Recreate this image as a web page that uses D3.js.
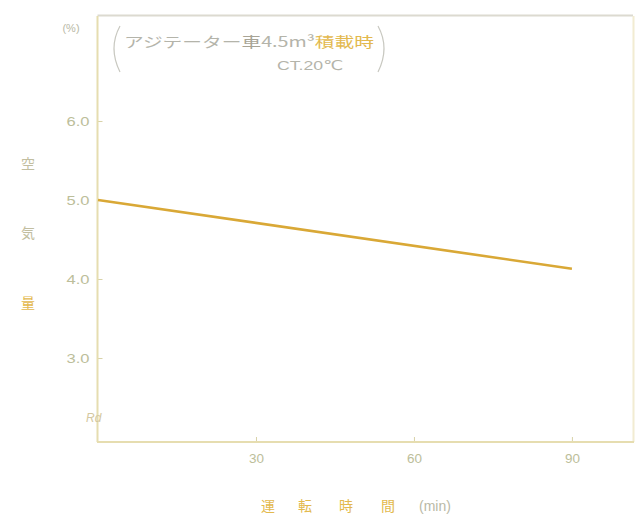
<!DOCTYPE html>
<html><head><meta charset="utf-8">
<script src="https://cdn.jsdelivr.net/npm/d3@7"></script>
<style>
html,body{margin:0;padding:0;background:#fff;}
svg{display:block;font-family:"Liberation Sans","DejaVu Sans",sans-serif;}
</style></head>
<body><svg id="c" width="636" height="518"></svg>
<script>
const times = [0, 90];
const airContent = [5.0, 4.13];
const xTicks = [30, 60, 90];
const yTicks = [3.0, 4.0, 5.0, 6.0];
const yTickLabels = ["3.0", "4.0", "5.0", "6.0"];
const titleLine1 = "アジテーター車4.5m³積載時";
const titleLine2 = "CT.20℃";
const yUnit = "(%)";
const yLabelChars = ["空", "気", "量"];
const xLabelChars = ["運", "転", "時", "間"];
const xUnit = "(min)";

const svg = d3.select("#c");
const x = d3.scaleLinear().domain([0, 101.6]).range([98, 633]);
const y = d3.scaleLinear().domain([1.937, 7.329]).range([442, 16]);

const frameCol = "#e6ddb0";
const tickTextCol = "#bcbe9a";
const grayText = "#b9b9a6";
const orange = "#e3b94e";

// frame
svg.append("line").attr("x1", 97.5).attr("x2", 633).attr("y1", 15.5).attr("y2", 15.5)
  .attr("stroke", "#dcdad0").attr("stroke-width", 2);
svg.append("line").attr("x1", 633.5).attr("x2", 633.5).attr("y1", 16).attr("y2", 442)
  .attr("stroke", "#f2ecd2").attr("stroke-width", 2);

// axes
const yAxis = d3.axisRight(y).tickValues(yTicks).tickSize(5)
  .tickFormat((d, i) => yTickLabels[i]);
const gy = svg.append("g").attr("transform", "translate(97.5,0)").call(yAxis);
gy.select(".domain").remove();
gy.selectAll(".tick line").attr("stroke", "#d8d2a8").attr("stroke-width", 1);
gy.selectAll(".tick text").attr("x", -8).attr("text-anchor", "end")
  .attr("fill", tickTextCol).attr("font-size", 13)
  .attr("textLength", 23).attr("lengthAdjust", "spacingAndGlyphs");
svg.append("line").attr("x1", 97.5).attr("x2", 97.5).attr("y1", 16).attr("y2", 442)
  .attr("stroke", frameCol).attr("stroke-width", 2);

const xAxis = d3.axisTop(x).tickValues(xTicks).tickSize(5).tickFormat(d3.format("d"));
const gx = svg.append("g").attr("transform", "translate(0,442)").call(xAxis);
gx.select(".domain").remove();
gx.selectAll(".tick line").attr("stroke", "#d8d2a8");
gx.selectAll(".tick text").attr("y", 17).attr("dy", "0.32em")
  .attr("fill", tickTextCol).attr("font-size", 13.5)
  .attr("textLength", 15).attr("lengthAdjust", "spacingAndGlyphs");
svg.append("line").attr("x1", 97).attr("x2", 634).attr("y1", 442).attr("y2", 442)
  .attr("stroke", frameCol).attr("stroke-width", 2);

// data line
const line = d3.line().x((d, i) => x(times[i])).y(d => y(d));
svg.append("path").datum(airContent).attr("d", line)
  .attr("fill", "none").attr("stroke", "#d9a836").attr("stroke-width", 2.6);

// texts
svg.append("text").attr("x", 71).attr("y", 32).attr("text-anchor", "middle")
  .attr("font-size", 11).attr("fill", grayText).text(yUnit);

svg.append("text").attr("x", 86).attr("y", 422).attr("font-size", 12)
  .attr("font-style", "italic").attr("fill", "#d4c8a0").text("Rd");

// title parens
const cjk = '"Noto Sans CJK JP", sans-serif';
svg.append("path").attr("d", "M120,26 Q108,48 120,72").attr("fill", "none")
  .attr("stroke", "#c8c8c0").attr("stroke-width", 1.2);
svg.append("path").attr("d", "M378,26 Q390,48 378,72").attr("fill", "none")
  .attr("stroke", "#c8c8c0").attr("stroke-width", 1.2);
const t1 = svg.append("text").attr("x", 124).attr("y", 47).attr("font-size", 14)
  .attr("font-family", cjk).attr("fill", "#b4b4aa").attr("textLength", 250)
  .attr("lengthAdjust", "spacingAndGlyphs");
t1.append("tspan").text(titleLine1.slice(0, 6));
t1.append("tspan").attr("fill", "#a8a496").text(titleLine1.slice(6, 7));
t1.append("tspan").text(titleLine1.slice(7, 12));
t1.append("tspan").attr("fill", orange).text(titleLine1.slice(12));
svg.append("text").attr("x", 277).attr("y", 70).attr("font-size", 13.5)
  .attr("fill", "#b4b4aa").attr("textLength", 66).attr("lengthAdjust", "spacingAndGlyphs")
  .text(titleLine2);

// y label vertical chars
const yLabY = [164, 233, 303];
yLabelChars.forEach((c, i) => {
  svg.append("text").attr("x", 28).attr("y", yLabY[i]).attr("dy", "0.35em")
    .attr("text-anchor", "middle").attr("font-family", cjk).attr("font-size", 14)
    .attr("fill", i === 2 ? orange : "#c2bea0").text(c);
});

// x label
const xLabX = [268, 305, 346, 388];
xLabelChars.forEach((c, i) => {
  svg.append("text").attr("x", xLabX[i]).attr("y", 506).attr("dy", "0.35em")
    .attr("text-anchor", "middle").attr("font-family", cjk).attr("font-size", 14)
    .attr("fill", orange).text(c);
});
svg.append("text").attr("x", 435).attr("y", 506).attr("dy", "0.35em")
  .attr("text-anchor", "middle").attr("font-size", 14).attr("fill", grayText).text(xUnit);
</script></body></html>
